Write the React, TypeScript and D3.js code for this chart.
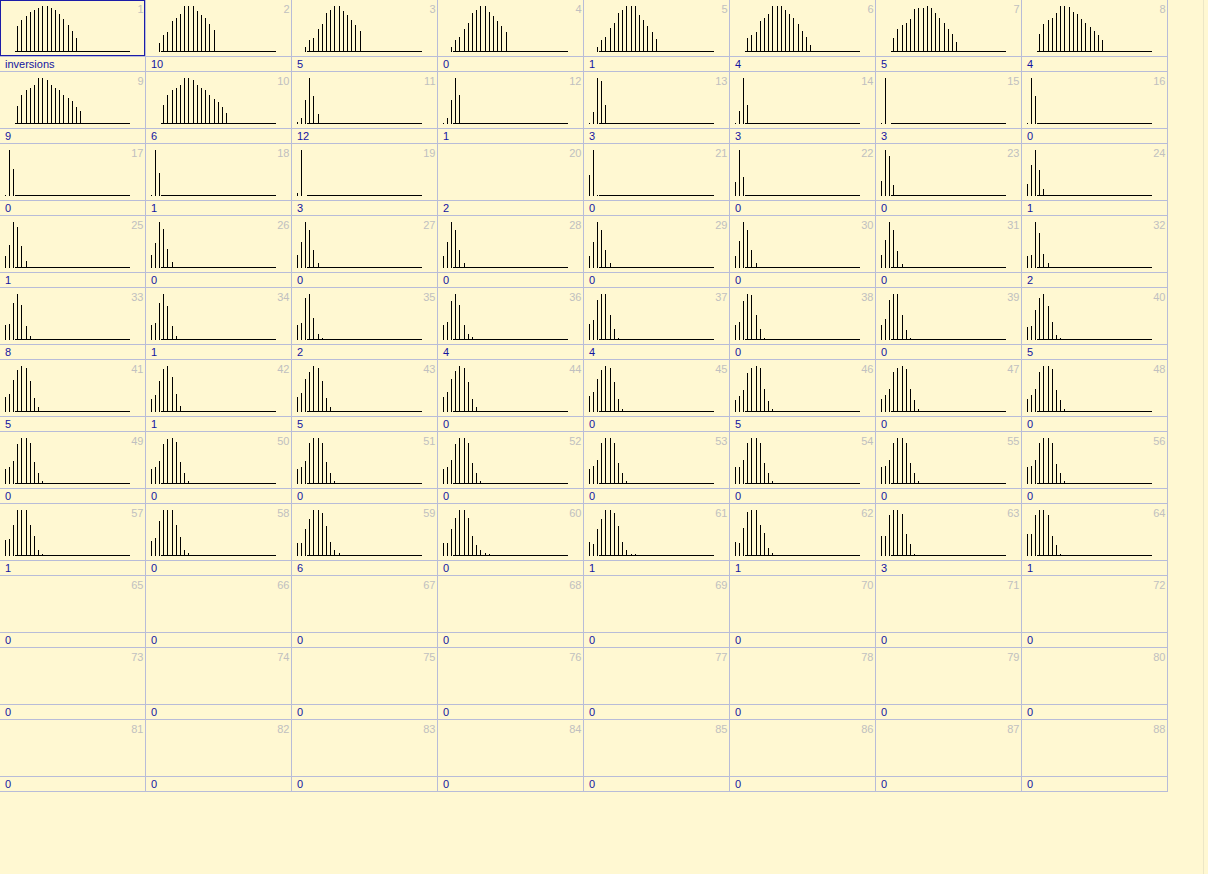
import React from 'react';
import * as d3 from 'd3';

// ---------- data ----------
const COLS = 8;
const ROWS = 11;

const panelNumbers: number[] = d3.range(1, COLS * ROWS + 1);

const bottomLabels: string[] = [
  'inversions', '10', '5', '0', '1', '4', '5', '4',
  '9', '6', '12', '1', '3', '3', '3', '0',
  '0', '1', '3', '2', '0', '0', '0', '1',
  '1', '0', '0', '0', '0', '0', '0', '2',
  '8', '1', '2', '4', '4', '0', '0', '5',
  '5', '1', '5', '0', '0', '5', '0', '0',
  '0', '0', '0', '0', '0', '0', '0', '0',
  '1', '0', '6', '0', '1', '1', '3', '1',
  '0', '0', '0', '0', '0', '0', '0', '0',
  '0', '0', '0', '0', '0', '0', '0', '0',
  '0', '0', '0', '0', '0', '0', '0', '0',
];

// first bin index of each histogram (null = empty panel)
const histStart: (number | null)[] = [
  1, 0, 0, 0, 0, 1, 1, 1,
  1, 1, -2, -2, -2, -2, -2, -2,
  -2, -2, -2, null, -2, -2, -2, -2,
  -2, -2, -2, -2, -2, -2, -2, -2,
  -2, -2, -2, -2, -2, -2, -2, -2,
  -2, -2, -2, -2, -2, -2, -2, -2,
  -2, -2, -2, -2, -2, -2, -2, -2,
  -2, -2, -2, -2, -2, -2, -2, -2,
];

// relative bin heights (percent of panel maximum)
const histValues: number[][] = [
  [56, 69, 78, 86, 92, 96, 100, 100, 96, 91, 82, 71, 58, 45, 30],
  [20, 37, 43, 67, 73, 82, 100, 100, 100, 89, 80, 73, 61, 47],
  [11, 26, 30, 51, 61, 84, 91, 100, 100, 89, 80, 69, 58, 45],
  [11, 26, 33, 51, 64, 85, 91, 100, 100, 88, 78, 67, 56, 43],
  [11, 26, 33, 53, 64, 84, 91, 99, 100, 99, 80, 69, 56, 44, 28],
  [31, 37, 43, 67, 73, 82, 100, 100, 100, 91, 82, 73, 60, 46, 33, 15],
  [31, 49, 58, 64, 72, 93, 95, 95, 100, 95, 84, 75, 64, 51, 40, 22],
  [39, 60, 69, 75, 84, 100, 100, 97, 88, 82, 72, 62, 55, 45, 36, 27],

  [40, 62, 73, 79, 84, 100, 100, 95, 84, 79, 73, 62, 57, 51, 38, 28],
  [42, 64, 74, 79, 84, 100, 100, 95, 84, 79, 73, 64, 55, 47, 36, 25],
  [4, 12, 53, 100, 61, 22],
  [2, 12, 53, 100, 62],
  [2, 26, 100, 93, 42],
  [2, 29, 100, 42],
  [2, 100],
  [2, 100, 60],

  [2, 100, 59],
  [2, 100, 51],
  [7, 100],
  [],
  [46, 100, 2],
  [30, 100, 41, 2],
  [33, 100, 87, 24, 2],
  [27, 67, 100, 56, 15],

  [27, 51, 100, 89, 47, 16],
  [29, 54, 100, 85, 42, 14],
  [29, 56, 100, 83, 40, 11],
  [27, 56, 100, 83, 39, 11],
  [27, 56, 100, 83, 40, 11, 3],
  [26, 58, 100, 83, 40, 11, 3],
  [29, 60, 100, 82, 38, 9, 3],
  [27, 28, 100, 76, 31, 10, 3],

  [33, 35, 81, 100, 76, 31, 9, 2],
  [33, 38, 81, 100, 74, 31, 9, 3],
  [33, 38, 91, 100, 47, 14, 4],
  [33, 40, 85, 100, 76, 32, 13, 6],
  [34, 43, 86, 100, 100, 54, 24, 4],
  [33, 40, 85, 100, 97, 54, 24, 5],
  [33, 45, 87, 100, 99, 54, 21, 4],
  [29, 31, 66, 92, 100, 74, 40, 11, 4],

  [32, 39, 69, 91, 100, 96, 67, 30, 10, 3],
  [29, 38, 67, 94, 100, 76, 39, 12, 3],
  [32, 41, 72, 88, 100, 96, 67, 30, 10, 3],
  [32, 43, 72, 89, 100, 96, 65, 29, 10, 3],
  [34, 43, 72, 91, 100, 96, 65, 29, 7, 3],
  [26, 34, 47, 85, 96, 100, 96, 49, 23, 7],
  [29, 37, 50, 87, 96, 100, 93, 49, 26, 7],
  [29, 37, 50, 87, 100, 100, 93, 47, 26, 7],

  [32, 37, 50, 87, 99, 100, 90, 47, 25, 7],
  [32, 38, 51, 87, 97, 100, 91, 47, 25, 7],
  [32, 38, 51, 90, 100, 100, 90, 47, 25, 6],
  [32, 38, 53, 88, 99, 100, 90, 46, 24, 6],
  [32, 40, 53, 90, 100, 100, 90, 46, 25, 6],
  [36, 38, 53, 90, 100, 100, 90, 46, 24, 6],
  [36, 40, 53, 90, 100, 100, 90, 46, 25, 6],
  [38, 40, 53, 90, 100, 100, 90, 44, 24, 7],

  [34, 38, 68, 99, 100, 99, 67, 43, 13, 4],
  [32, 39, 76, 99, 100, 99, 67, 41, 13, 6],
  [28, 28, 58, 80, 100, 100, 93, 65, 31, 13, 6, 3],
  [28, 28, 58, 83, 100, 100, 83, 43, 24, 13, 6, 4],
  [30, 27, 59, 80, 100, 100, 93, 65, 31, 13, 4, 4],
  [31, 28, 61, 95, 100, 100, 67, 49, 17, 7],
  [43, 43, 90, 99, 100, 92, 47, 27, 4],
  [47, 47, 90, 100, 100, 90, 44, 24, 4],
];

// ---------- layout ----------
const W = 1208;
const H = 874;
const CELL_W = 146;
const CELL_H = 72;
const PLOT_H = 56;
const BG = '#fff8d2';
const GRID = '#b8bcd8';
const FONT = '"Liberation Sans", Arial, sans-serif';

const xBin = d3.scaleLinear().domain([-2, 27]).range([5, 5 + 4.2 * 29]);
const yVal = d3.scaleLinear().domain([0, 100]).range([52, 6]);

function Panel({ idx }: { idx: number }) {
  const col = idx % COLS;
  const row = Math.floor(idx / COLS);
  const x0 = col * CELL_W;
  const y0 = row * CELL_H;
  const start = idx < histStart.length ? histStart[idx] : null;
  const vals = idx < histValues.length ? histValues[idx] : [];
  const hasData = start !== null && vals.length > 0;
  return (
    <g transform={`translate(${x0},${y0})`}>
      {hasData && (
        <g>
          <line x1={15} x2={130} y1={51.5} y2={51.5} stroke="#000" strokeWidth={1} />
          {vals.map((v, i) => {
            const x = Math.floor(xBin((start as number) + i)) + 0.5;
            const yt = Math.min(51, Math.round(yVal(v)));
            return <line key={i} x1={x} x2={x} y1={52} y2={yt} stroke="#000" strokeWidth={1} />;
          })}
        </g>
      )}
      <text x={143.5} y={13} textAnchor="end" fontFamily={FONT} fontSize={11} fill="#c0c0c0">
        {panelNumbers[idx]}
      </text>
      <text x={5} y={68} fontFamily={FONT} fontSize={11} fill="#1414a0">
        {bottomLabels[idx]}
      </text>
    </g>
  );
}

export default function App() {
  const totalW = COLS * CELL_W;
  const totalH = ROWS * CELL_H;
  return (
    <div style={{ position: 'absolute', left: 0, top: 0, width: W, height: H }}>
      <svg width={W} height={H} style={{ display: 'block' }} shapeRendering="crispEdges">
        <rect x={0} y={0} width={W} height={H} fill={BG} />
        <line x1={1203.5} x2={1203.5} y1={0} y2={H} stroke="#ece6c6" />
        {/* grid lines */}
        {d3.range(ROWS).map((r) => (
          <g key={'h' + r}>
            <line x1={0} x2={totalW} y1={r * CELL_H + PLOT_H + 0.5} y2={r * CELL_H + PLOT_H + 0.5} stroke={GRID} />
            <line x1={0} x2={totalW} y1={r * CELL_H + CELL_H - 0.5} y2={r * CELL_H + CELL_H - 0.5} stroke={GRID} />
          </g>
        ))}
        {d3.range(COLS).map((c) => (
          <line key={'v' + c} x1={c * CELL_W + CELL_W - 0.5} x2={c * CELL_W + CELL_W - 0.5} y1={0} y2={totalH} stroke={GRID} />
        ))}
        {panelNumbers.map((_, i) => (
          <Panel key={i} idx={i} />
        ))}
        {/* selected panel frame */}
        <rect x={0.5} y={0.5} width={144} height={55} fill="none" stroke="#1c1ca8" strokeWidth={1} />
      </svg>
    </div>
  );
}
